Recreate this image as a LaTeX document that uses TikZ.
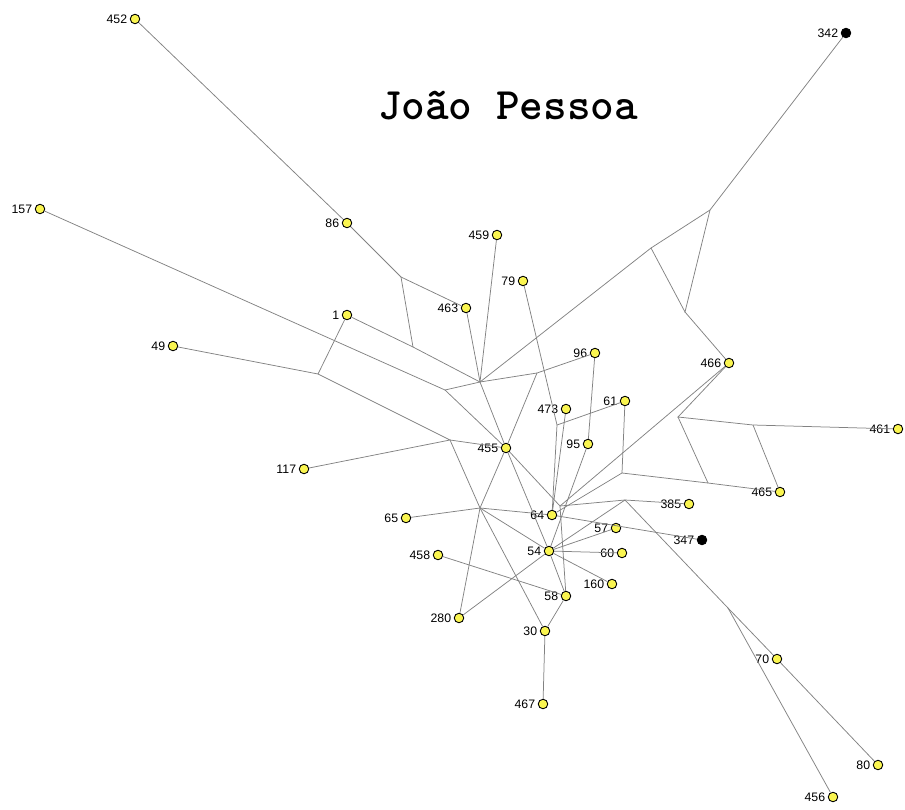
\documentclass[tikz,border=0pt]{standalone}
\usepackage{fontspec}
\setmainfont{Liberation Sans}
\definecolor{nodeyellow}{RGB}{250,245,80}
\definecolor{edgegray}{RGB}{130,130,130}
\begin{document}
\begin{tikzpicture}[x=1pt,y=-1pt,
  yn/.style={circle,draw=black,fill=nodeyellow,line width=0.9pt,inner sep=0pt,minimum size=9.5pt},
  bn/.style={circle,draw=black,fill=black,line width=0.9pt,inner sep=0pt,minimum size=9.5pt},
  lab/.style={font=\fontsize{12.3}{12.3}\selectfont,inner sep=0pt},
  edge/.style={draw=edgegray,line width=0.75pt},
  every label/.style={lab},
  label distance=2.5pt]
\useasboundingbox (0,0) rectangle (905,809);
% title
\node[font=\ttfamily\bfseries\fontsize{45}{45}\selectfont,inner sep=0pt] (title) at (508,106) {João Pessoa};
% junctions (median vectors)
\coordinate (J1) at (401,277);
\coordinate (J2) at (413,347);
\coordinate (J3) at (480,382);
\coordinate (J4) at (651,248);
\coordinate (J5) at (710,210);
\coordinate (J6) at (685,312);
\coordinate (J7) at (678,417);
\coordinate (J8) at (753,425);
\coordinate (J9) at (708,483);
\coordinate (J10) at (318,374);
\coordinate (J11) at (445,390);
\coordinate (L2) at (450,440);
\coordinate (P1) at (480,508);
\coordinate (M1) at (537,373);
\coordinate (N1) at (557,425);
\coordinate (K1) at (560,506);
\coordinate (K2) at (622,473);
\coordinate (K3) at (625,500);
\coordinate (T1) at (728,608);
% sequence nodes
\node[yn,label=left:452] (n452) at (135,19) {};
\node[bn,label=left:342] (n342) at (846,33) {};
\node[yn,label=left:157] (n157) at (40,209) {};
\node[yn,label=left:86] (n86) at (347,223) {};
\node[yn,label=left:459] (n459) at (497,235) {};
\node[yn,label=left:79] (n79) at (523,281) {};
\node[yn,label=left:463] (n463) at (466,308) {};
\node[yn,label=left:1] (n1) at (347,315) {};
\node[yn,label=left:49] (n49) at (173,346) {};
\node[yn,label=left:96] (n96) at (595,353) {};
\node[yn,label=left:466] (n466) at (729,363) {};
\node[yn,label=left:473] (n473) at (566,409) {};
\node[yn,label=left:61] (n61) at (625,401) {};
\node[yn,label=left:461] (n461) at (898,429) {};
\node[yn,label=left:455] (n455) at (506,448) {};
\node[yn,label=left:95] (n95) at (588,444) {};
\node[yn,label=left:117] (n117) at (304,469) {};
\node[yn,label=left:465] (n465) at (780,492) {};
\node[yn,label=left:385] (n385) at (689,504) {};
\node[yn,label=left:65] (n65) at (406,518) {};
\node[yn,label=left:64] (n64) at (552,515) {};
\node[yn,label=left:57] (n57) at (616,528) {};
\node[bn,label=left:347] (n347) at (702,540) {};
\node[yn,label=left:458] (n458) at (438,555) {};
\node[yn,label=left:54] (n54) at (549,551) {};
\node[yn,label=left:60] (n60) at (622,553) {};
\node[yn,label=left:160] (n160) at (612,584) {};
\node[yn,label=left:58] (n58) at (566,596) {};
\node[yn,label=left:280] (n280) at (459,618) {};
\node[yn,label=left:30] (n30) at (545,631) {};
\node[yn,label=left:70] (n70) at (777,659) {};
\node[yn,label=left:467] (n467) at (543,704) {};
\node[yn,label=left:80] (n80) at (878,765) {};
\node[yn,label=left:456] (n456) at (833,797) {};
% edges
\begin{scope}[edge]
\draw (n452) -- (n86) -- (J1) -- (n463) -- (J3);
\draw (J1) -- (J2);
\draw (n1) -- (J2) -- (J3);
\draw (n459) -- (J3) -- (n455);
\draw (J3) -- (J4) -- (J5) -- (n342);
\draw (J4) -- (J6) -- (J5);
\draw (J6) -- (n466) -- (J7) -- (J8) -- (n461);
\draw (J8) -- (n465) -- (J9) -- (J7);
\draw (J9) -- (K2) -- (n61);
\draw (n466) -- (K1);
\draw (n157) -- (J11) -- (J3) -- (M1) -- (n96);
\draw (M1) -- (n455);
\draw (J11) -- (n455);
\draw (n49) -- (J10) -- (n1);
\draw (J10) -- (L2) -- (n117);
\draw (L2) -- (n455);
\draw (L2) -- (P1) -- (n30);
\draw (n65) -- (P1) -- (n64);
\draw (P1) -- (n54);
\draw (n455) -- (P1) -- (n280);
\draw (n280) -- (n54);
\draw (n455) -- (K1);
\draw (n455) -- (n54);
\draw (n79) -- (N1) -- (n61);
\draw (N1) -- (n64);
\draw (n473) -- (n64);
\draw (n96) -- (n95) -- (n54);
\draw (K2) -- (n64);
\draw (n64) -- (n347);
\draw (K1) -- (K3) -- (n385);
\draw (K1) -- (n58);
\draw (K3) -- (n54);
\draw (K3) -- (T1) -- (n70) -- (n80);
\draw (T1) -- (n456);
\draw (n54) -- (n57);
\draw (n54) -- (n60);
\draw (n54) -- (n160);
\draw (n54) -- (n58) -- (n30) -- (n467);
\draw (n458) -- (n58);
\end{scope}
\end{tikzpicture}
\end{document}
